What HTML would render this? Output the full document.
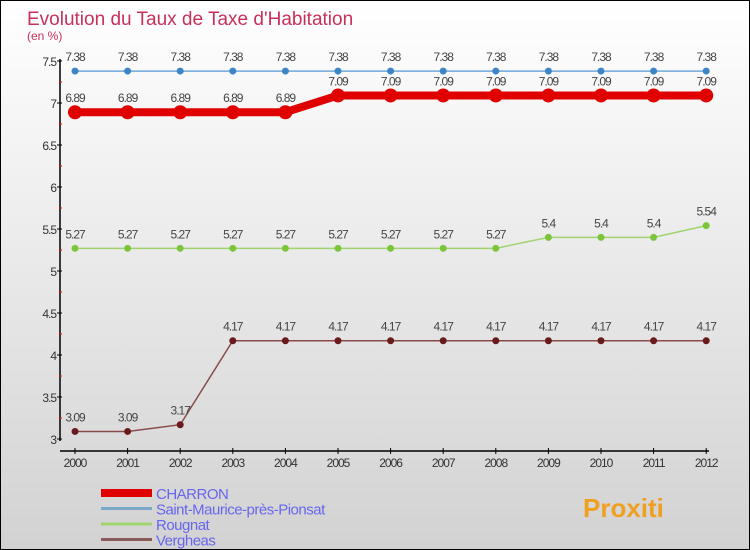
<!DOCTYPE html>
<html><head><meta charset="utf-8"><style>
body{margin:0}
#c{width:748px;height:548px;border:1px solid #000;background:linear-gradient(#fff,#d2d2d2);position:relative;font-family:"Liberation Sans",sans-serif;overflow:hidden}
</style></head><body>
<div id="c">
<svg id="s" width="748" height="548" style="position:absolute;left:0;top:0"></svg>
</div>
<script>
const years=[2000,2001,2002,2003,2004,2005,2006,2007,2008,2009,2010,2011,2012];
const charron=[6.89,6.89,6.89,6.89,6.89,7.09,7.09,7.09,7.09,7.09,7.09,7.09,7.09];
const saint=[7.38,7.38,7.38,7.38,7.38,7.38,7.38,7.38,7.38,7.38,7.38,7.38,7.38];
const rougnat=[5.27,5.27,5.27,5.27,5.27,5.27,5.27,5.27,5.27,5.4,5.4,5.4,5.54];
const vergheas=[3.09,3.09,3.17,4.17,4.17,4.17,4.17,4.17,4.17,4.17,4.17,4.17,4.17];
const yTicks=[3,3.5,4,4.5,5,5.5,6,6.5,7,7.5];
const s=document.getElementById('s');const NS='http://www.w3.org/2000/svg';
const X=i=>74+i*52.6, Y=v=>438-(v-3)*84;
function el(t,a,txt){const e=document.createElementNS(NS,t);for(const k in a)e.setAttribute(k,a[k]);if(txt!==undefined)e.textContent=txt;s.appendChild(e);return e;}
let e;
e=el('text',{x:26,y:24,'font-size':19,fill:'#c8305a'},"Evolution du Taux de Taxe d'Habitation");

e=el('text',{x:26,y:39,'font-size':12,fill:'#c8305a'},"(en %)");

e=el('line',{x1:59,y1:58,x2:59,y2:440,stroke:'#000','stroke-width':1.5});

e=el('line',{x1:59,y1:450,x2:708,y2:450,stroke:'#000','stroke-width':1.5});

yTicks.forEach(v=>{
 e=el('line',{x1:56,y1:Y(v),x2:61,y2:Y(v),stroke:'#000'});
 
 e=el('text',{x:55,y:Y(v)+5,'font-size':12,fill:'#333','text-anchor':'end','letter-spacing':'-1'},String(v));
 
 if(v<7.5){e=el('line',{x1:58,y1:Y(v+0.25),x2:61,y2:Y(v+0.25),stroke:'#e00'});
 }
});
years.forEach((y,i)=>{
 e=el('line',{x1:X(i),y1:447,x2:X(i),y2:453,stroke:'#000'});
 
 e=el('text',{x:X(i),y:466,'font-size':12,fill:'#333','text-anchor':'middle','letter-spacing':'-1'},String(y));
 
});
function series(d,col,w,r,dot,name){
 e=el('polyline',{points:d.map((v,i)=>X(i)+','+Y(v)).join(' '),fill:'none',stroke:col,'stroke-width':w});
 
 d.forEach((v,i)=>{
  e=el('circle',{cx:X(i),cy:Y(v),r:r,fill:dot});
  
  e=el('text',{x:X(i),y:Y(v)-10,'font-size':12,fill:'#444','text-anchor':'middle','letter-spacing':'-1'},String(v));
  
 });
}
series(saint,'#6fa8dc',1.5,3.5,'#3d85c6','saint-maurice');
series(rougnat,'#9fd46f',1.5,3.5,'#7cc53a','rougnat');
series(vergheas,'#8b4a4a',1.5,3.5,'#6a1a1a','vergheas');
series(charron,'#e00000',8,7,'#e00000','charron');
const leg=[['CHARRON','#e00000',8],['Saint-Maurice-près-Pionsat','#7ba7c9',3],['Rougnat','#9fd46f',3],['Vergheas','#8b5a5a',3]];
leg.forEach((l,i)=>{
 const y=492+i*15.5;
 e=el('line',{x1:100,y1:y,x2:151,y2:y,stroke:l[1],'stroke-width':l[2]});
 
 e=el('text',{x:155,y:y+6,'font-size':15,fill:'#6666ee','letter-spacing':'-0.5'},l[0]);
 
});
e=el('text',{x:582,y:516,'font-size':26,'font-weight':'bold',fill:'#f0a020'},'Proxiti');

</script>
</body></html>
